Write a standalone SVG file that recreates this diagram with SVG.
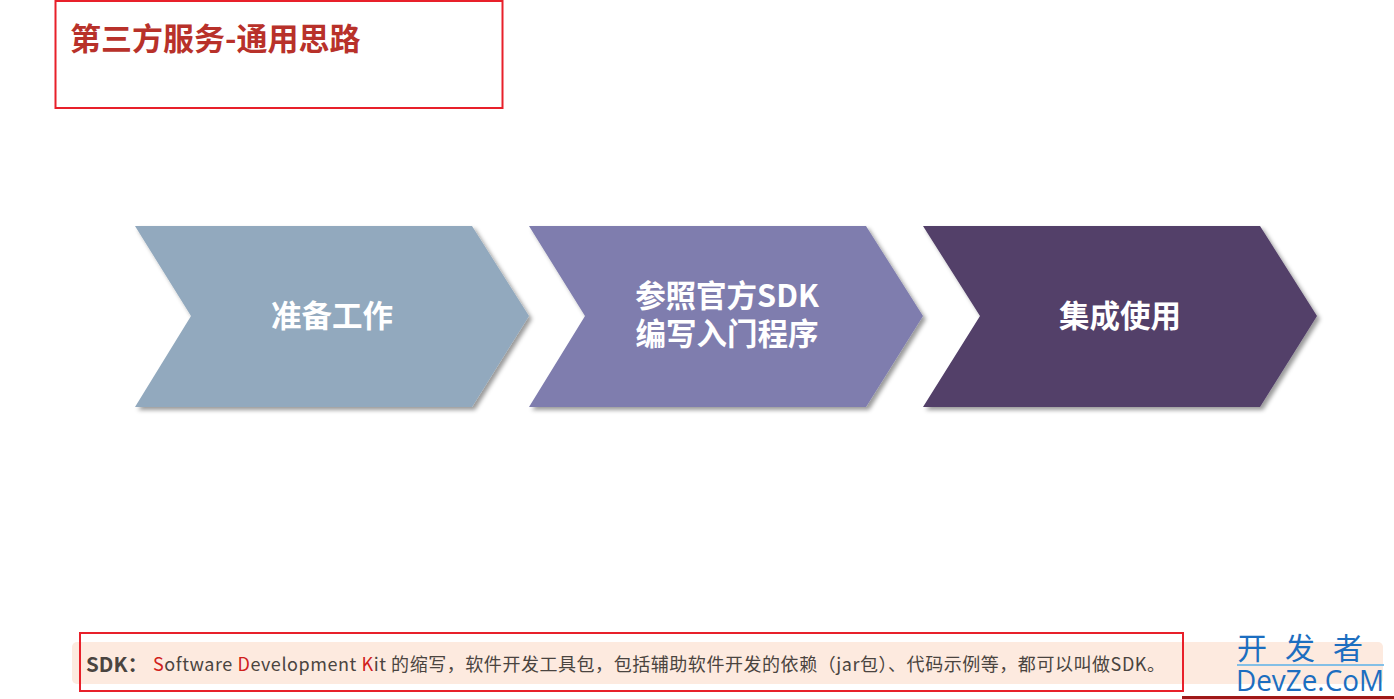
<svg xmlns="http://www.w3.org/2000/svg" width="1394" height="699" viewBox="0 0 1394 699">
<defs>
<style>
.cjk{font-family:"Noto Sans CJK SC","Noto Sans",sans-serif}
.chev-t{fill:#ffffff;font-weight:700;font-size:30.5px;text-anchor:middle}
.box{fill:none;stroke:#E8202A;stroke-width:2}
</style>
<filter id="sh" x="-10%" y="-10%" width="125%" height="130%">
<feDropShadow dx="3" dy="3" stdDeviation="2.2" flood-color="#000" flood-opacity="0.4"/>
</filter>
</defs>
<rect width="1394" height="699" fill="#ffffff"/>
<g id="title">
<rect class="box" x="55.5" y="1" width="447" height="107"/>
<text class="cjk" x="70" y="50" font-size="31" font-weight="700" fill="#B8312A">第三方服务-通用思路</text>
</g>
<g id="step1">
<polygon points="135,226 472,226 529,316 472,407 135,407 191,316" fill="#92A9BE" filter="url(#sh)"/>
<text class="cjk chev-t" x="332" y="327">准备工作</text>
</g>
<g id="step2">
<polygon points="529,226 866,226 923,316 866,407 529,407 585,316" fill="#7F7DAE" filter="url(#sh)"/>
<text class="cjk chev-t" x="727" y="307">参照官方SDK</text>
<text class="cjk chev-t" x="727" y="345">编写入门程序</text>
</g>
<g id="step3">
<polygon points="923,226 1260,226 1317,316 1260,407 923,407 980,316" fill="#523F69" filter="url(#sh)"/>
<text class="cjk chev-t" x="1120" y="327">集成使用</text>
</g>
<g id="connectors"></g>
<g id="note">
<rect x="72" y="642" width="1311" height="42" rx="5" fill="#FDEADF"/>
<rect class="box" x="80" y="633" width="1103" height="58"/>
<text class="cjk" x="86" y="672" font-size="20.5" font-weight="700" fill="#4A4440">SDK：</text>
<text class="cjk" x="153" y="671" font-size="18" fill="#4A4440" textLength="1012" lengthAdjust="spacing"><tspan fill="#D0201B">S</tspan>oftware <tspan fill="#D0201B">D</tspan>evelopment <tspan fill="#D0201B">K</tspan>it 的缩写，软件开发工具包，包括辅助软件开发的依赖（jar包）、代码示例等，都可以叫做SDK。</text>
</g>
<g id="watermark">
<line x1="1237" y1="665" x2="1384" y2="665" stroke="#5AB0E8" stroke-width="1.5"/>
<text class="cjk" x="1237" y="659" font-size="30" fill="#1C6EC0" letter-spacing="18">开发者</text>
<text x="1236" y="691" font-family="'Open Sans','Liberation Sans',sans-serif" font-size="29" fill="#1C6EC0" textLength="148" lengthAdjust="spacingAndGlyphs">DevZe.CoM</text>
<line x1="1182" y1="697.5" x2="1394" y2="697.5" stroke="#A01818" stroke-width="3"/>
</g>
</svg>
